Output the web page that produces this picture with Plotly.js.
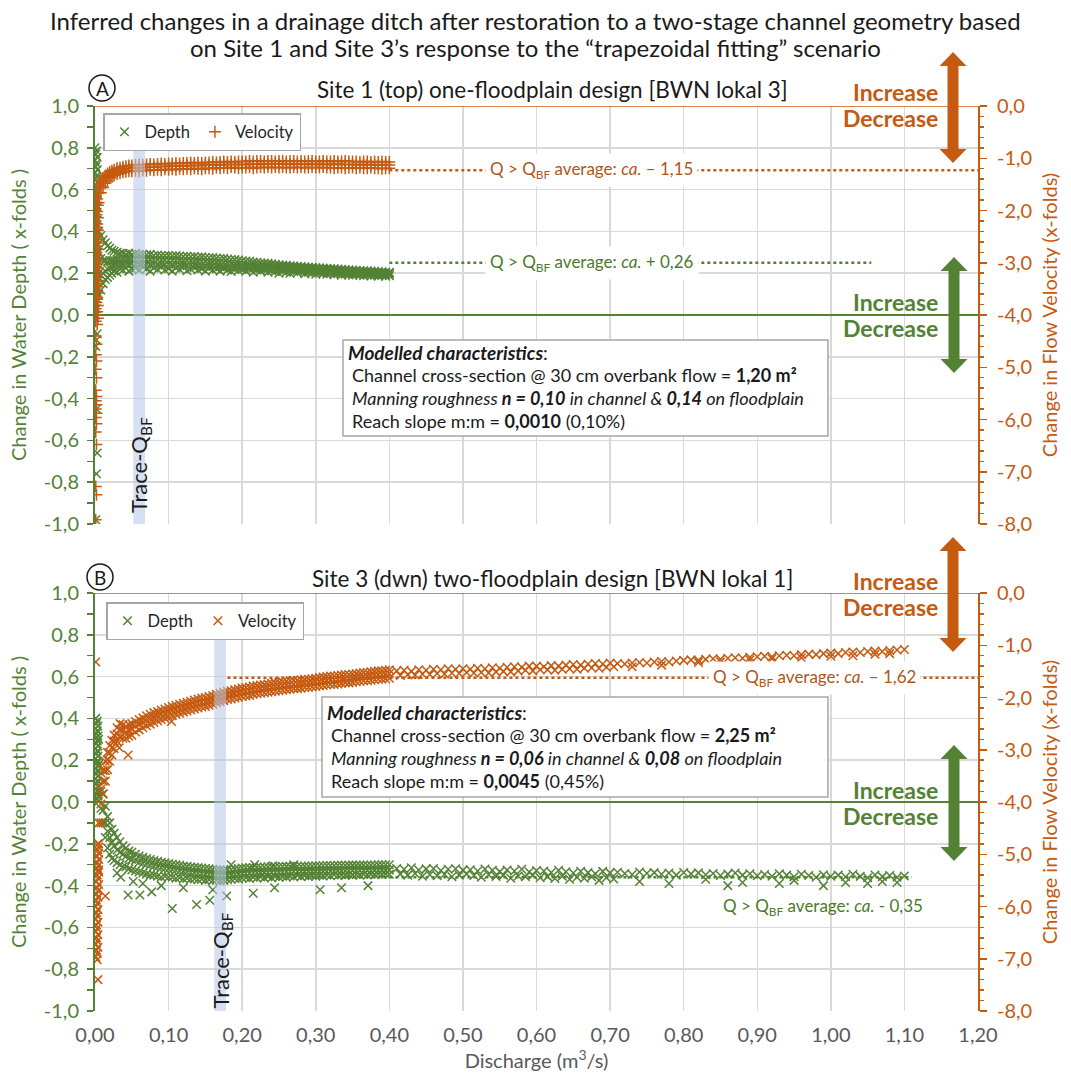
<!DOCTYPE html>
<html><head><meta charset="utf-8">
<script src="https://cdn.plot.ly/plotly-3.0.1.min.js"></script>
<style>html,body{margin:0;padding:0;background:#fff}</style>
</head><body>
<div id="chart" style="width:1071px;height:1080px"></div>
<script>
// ---------------- DATA ----------------
const xTickVals = [0,0.1,0.2,0.3,0.4,0.5,0.6,0.7,0.8,0.9,1.0,1.1,1.2];
const xTickText = ["0,00","0,10","0,20","0,30","0,40","0,50","0,60","0,70","0,80","0,90","1,00","1,10","1,20"];
const leftTickVals = [-1,-0.8,-0.6,-0.4,-0.2,0,0.2,0.4,0.6,0.8,1];
const leftTickText = ["-1,0","-0,8","-0,6","-0,4","-0,2","0,0","0,2","0,4","0,6","0,8","1,0"];
const rightTickVals = [-8,-7,-6,-5,-4,-3,-2,-1,0];
const rightTickText = ["-8,0","-7,0","-6,0","-5,0","-4,0","-3,0","-2,0","-1,0","0,0"];

// ===== Site 1 (top panel) =====
const topBandX = [0.005,0.008,0.011,0.014,0.017,0.020,0.023,0.026,0.030,0.034,0.038,0.042,0.046,0.050,
0.055,0.060,0.065,0.070,0.075,0.080,0.085,0.090,0.095,0.100,
0.105,0.110,0.115,0.120,0.125,0.130,0.135,0.140,0.145,0.150,
0.155,0.160,0.165,0.170,0.175,0.180,0.185,0.190,0.195,0.200,
0.205,0.210,0.215,0.220,0.225,0.230,0.235,0.240,0.245,0.250,
0.255,0.260,0.265,0.270,0.275,0.280,0.285,0.290,0.295,0.300,
0.305,0.310,0.315,0.320,0.325,0.330,0.335,0.340,0.345,0.350,
0.355,0.360,0.365,0.370,0.375,0.380,0.385,0.390,0.395,0.400];
const topDepthHi = [0.40,0.38,0.36,0.345,0.33,0.32,0.31,0.305,0.30,0.295,0.295,0.29,0.295,0.29,
0.295,0.29,0.29,0.288,0.29,0.285,0.287,0.285,0.284,0.285,
0.283,0.284,0.282,0.28,0.281,0.279,0.28,0.277,0.278,0.275,
0.274,0.275,0.272,0.27,0.271,0.268,0.266,0.265,0.263,0.26,
0.258,0.257,0.254,0.252,0.25,0.249,0.247,0.245,0.243,0.24,
0.239,0.238,0.236,0.235,0.233,0.232,0.231,0.229,0.228,0.227,
0.226,0.225,0.223,0.222,0.221,0.22,0.219,0.218,0.216,0.215,
0.214,0.213,0.212,0.211,0.21,0.209,0.208,0.207,0.206,0.205];
const topDepthMid = [0.30,0.27,0.26,0.26,0.255,0.26,0.26,0.262,0.265,0.265,0.268,0.265,0.268,0.265,
0.267,0.265,0.266,0.264,0.265,0.263,0.264,0.262,0.263,0.262,
0.261,0.262,0.26,0.259,0.26,0.258,0.257,0.256,0.256,0.255,
0.254,0.253,0.252,0.251,0.25,0.248,0.247,0.246,0.245,0.243,
0.242,0.241,0.24,0.238,0.237,0.236,0.235,0.233,0.232,0.231,
0.23,0.229,0.228,0.227,0.225,0.224,0.223,0.222,0.221,0.22,
0.219,0.218,0.217,0.216,0.215,0.214,0.213,0.212,0.211,0.21,
0.209,0.208,0.207,0.206,0.205,0.204,0.203,0.202,0.201,0.20];
const topDepthQ = [0.20,0.19,0.20,0.21,0.22,0.225,0.23,0.235,0.24,0.24,0.245,0.245,0.24,0.245,
0.245,0.24,0.248,0.243,0.238,0.245,0.24,0.246,0.239,0.243,
0.237,0.244,0.24,0.245,0.236,0.24,0.243,0.236,0.24,0.233,
0.24,0.234,0.237,0.231,0.236,0.232,0.228,0.234,0.229,0.231,
0.226,0.231,0.223,0.228,0.224,0.228,0.22,0.224,0.221,0.217,
0.221,0.218,0.215,0.219,0.214,0.218,0.211,0.215,0.211,0.208,
0.212,0.208,0.206,0.209,0.204,0.207,0.201,0.204,0.201,0.199,
0.202,0.199,0.197,0.2,0.196,0.198,0.195,0.197,0.193,0.195];
const topDepthLo = [0.10,0.12,0.15,0.17,0.18,0.19,0.20,0.21,0.205,0.22,0.215,0.225,0.21,0.22,
0.225,0.215,0.23,0.22,0.21,0.225,0.218,0.23,0.215,0.222,
0.21,0.225,0.218,0.23,0.212,0.22,0.227,0.215,0.222,0.21,
0.225,0.215,0.22,0.21,0.223,0.216,0.208,0.22,0.213,0.218,
0.21,0.22,0.205,0.215,0.21,0.218,0.205,0.212,0.208,0.2,
0.21,0.205,0.2,0.208,0.202,0.21,0.198,0.205,0.2,0.195,
0.203,0.198,0.195,0.2,0.193,0.198,0.19,0.196,0.192,0.19,
0.195,0.19,0.188,0.193,0.187,0.19,0.186,0.19,0.185,0.188];
const topDepthSpikeX = [0.000,0.002,0.001,0.003,0.000,0.002,0.001,0.003,0.000,0.002,
0.001,0.003,0.000,0.002,0.001,0.003,0.000,0.002,0.001,0.003,
0.000,0.002,0.001,0.003,0.000,0.002,0.001,0.003,0.000,0.002,
0.001,0.003,0.000,0.002,0.001,0.003,0.000,0.002,0.001,0.003,
0.000,0.002,0.001,0.003,0.000,0.002,0.001,0.003,0.002,0.001,
0.002,0.001,0.003,0.002,0.001,0.002,0.003,0.002,0.001];
const topDepthSpikeY = [0.80,0.785,0.77,0.755,0.74,0.725,0.71,0.695,0.68,0.665,
0.65,0.635,0.62,0.605,0.59,0.575,0.56,0.545,0.53,0.515,
0.50,0.485,0.47,0.455,0.44,0.425,0.41,0.395,0.38,0.365,
0.35,0.335,0.32,0.305,0.29,0.275,0.26,0.245,0.23,0.215,
0.20,0.185,0.17,0.155,0.14,0.125,0.11,0.095,0.08,0.06,
0.03,0.00,-0.09,-0.12,-0.15,-0.45,-0.66,-0.76,-0.98];
const topVelHi = [-1.50,-1.42,-1.37,-1.33,-1.29,-1.26,-1.24,-1.22,-1.19,-1.18,-1.16,-1.15,-1.14,-1.14,
-1.13,-1.12,-1.13,-1.12,-1.11,-1.12,-1.11,-1.10,-1.11,-1.10,
-1.10,-1.09,-1.10,-1.09,-1.09,-1.08,-1.09,-1.08,-1.09,-1.08,
-1.08,-1.07,-1.08,-1.07,-1.06,-1.07,-1.06,-1.07,-1.06,-1.06,
-1.06,-1.05,-1.06,-1.05,-1.05,-1.06,-1.05,-1.05,-1.06,-1.05,
-1.05,-1.06,-1.05,-1.05,-1.06,-1.05,-1.06,-1.05,-1.05,-1.06,
-1.06,-1.05,-1.06,-1.06,-1.05,-1.06,-1.06,-1.05,-1.06,-1.06,
-1.06,-1.07,-1.06,-1.06,-1.07,-1.06,-1.07,-1.06,-1.07,-1.07];
const topVelMid = [-1.66,-1.53,-1.45,-1.39,-1.35,-1.31,-1.29,-1.27,-1.24,-1.23,-1.21,-1.20,-1.19,-1.19,
-1.18,-1.18,-1.18,-1.17,-1.17,-1.17,-1.16,-1.16,-1.16,-1.16,
-1.15,-1.15,-1.15,-1.15,-1.14,-1.14,-1.14,-1.14,-1.14,-1.13,
-1.13,-1.13,-1.13,-1.13,-1.12,-1.12,-1.12,-1.12,-1.12,-1.12,
-1.12,-1.11,-1.12,-1.11,-1.11,-1.12,-1.11,-1.11,-1.11,-1.11,
-1.11,-1.11,-1.12,-1.11,-1.11,-1.11,-1.12,-1.11,-1.11,-1.12,
-1.12,-1.11,-1.12,-1.12,-1.12,-1.11,-1.12,-1.12,-1.12,-1.12,
-1.12,-1.13,-1.12,-1.12,-1.13,-1.12,-1.13,-1.13,-1.12,-1.13];
const topVelLo = [-1.85,-1.66,-1.56,-1.48,-1.43,-1.38,-1.36,-1.33,-1.30,-1.29,-1.27,-1.26,-1.25,-1.25,
-1.24,-1.25,-1.23,-1.24,-1.22,-1.23,-1.22,-1.23,-1.21,-1.22,
-1.21,-1.22,-1.20,-1.21,-1.20,-1.21,-1.19,-1.20,-1.21,-1.19,
-1.19,-1.20,-1.18,-1.19,-1.18,-1.19,-1.17,-1.18,-1.19,-1.18,
-1.18,-1.17,-1.19,-1.18,-1.17,-1.18,-1.17,-1.18,-1.17,-1.18,
-1.17,-1.18,-1.18,-1.17,-1.18,-1.17,-1.18,-1.18,-1.17,-1.18,
-1.18,-1.17,-1.18,-1.18,-1.19,-1.18,-1.18,-1.19,-1.18,-1.18,
-1.19,-1.18,-1.19,-1.19,-1.18,-1.19,-1.19,-1.20,-1.19,-1.19];
const topVelSpikeX = [0.002,0.004,0.001,0.003,0.002,0.004,0.001,0.003,0.002,0.004,
0.001,0.003,0.002,0.004,0.001,0.003,0.002,0.004,0.001,0.003,
0.002,0.004,0.001,0.003,0.002,0.004,0.001,0.003,0.002,0.004,
0.001,0.003,0.002,0.004,0.001,0.003,0.002,0.004,0.001,0.003,
0.002,0.004,0.001,0.003,
0.001,0.002,0.001,0.002,0.001,0.002,0.001,0.002,0.001,0.002,
0.001,0.002,0.001,0.002,0.001,0.002,0.001,0.002,0.001];
const topVelSpikeY = [-1.60,-1.66,-1.72,-1.78,-1.84,-1.90,-1.96,-2.02,-2.08,-2.14,
-2.20,-2.26,-2.32,-2.38,-2.44,-2.50,-2.56,-2.62,-2.68,-2.74,
-2.80,-2.86,-2.92,-2.98,-3.04,-3.10,-3.16,-3.22,-3.28,-3.34,
-3.40,-3.46,-3.52,-3.58,-3.64,-3.70,-3.76,-3.82,-3.88,-3.94,
-4.00,-4.06,-4.12,-4.18,
-4.40,-4.56,-4.76,-4.88,-5.04,-5.20,-5.44,-5.56,-5.64,-5.72,
-5.80,-5.88,-5.96,-6.08,-6.24,-6.48,-7.28,-7.44,-7.92];
const topVelAvgX = [0.40, 1.20];  const topVelAvgY = [-1.23, -1.23];
const topDepAvgX = [0.40, 1.055]; const topDepAvgY = [0.25, 0.25];
const topQbf = [0.052, 0.068];

// ===== Site 3 (bottom panel) =====
const botBandX = [0.005,0.008,0.011,0.014,0.017,0.020,0.023,0.026,0.030,0.034,0.038,0.042,0.046,0.050,
0.055,0.060,0.065,0.070,0.075,0.080,0.085,0.090,0.095,0.100,
0.105,0.110,0.115,0.120,0.125,0.130,0.135,0.140,0.145,0.150,
0.155,0.160,0.165,0.170,0.175,0.180,0.185,0.190,0.195,0.200,
0.205,0.210,0.215,0.220,0.225,0.230,0.235,0.240,0.245,0.250,
0.255,0.260,0.265,0.270,0.275,0.280,0.285,0.290,0.295,0.300,
0.305,0.310,0.315,0.320,0.325,0.330,0.335,0.340,0.345,0.350,
0.355,0.360,0.365,0.370,0.375,0.380,0.385,0.390,0.395,0.400];
const botDepthHi = [0.30,0.14,0.04,-0.02,-0.07,-0.10,-0.13,-0.15,-0.17,-0.19,-0.21,-0.22,-0.235,-0.24,
-0.25,-0.258,-0.265,-0.27,-0.275,-0.28,-0.284,-0.288,-0.291,-0.295,
-0.298,-0.30,-0.303,-0.306,-0.308,-0.31,-0.312,-0.314,-0.316,-0.318,
-0.32,-0.322,-0.324,-0.325,-0.326,-0.325,-0.323,-0.321,-0.318,-0.316,
-0.315,-0.314,-0.313,-0.312,-0.312,-0.311,-0.31,-0.31,-0.31,-0.309,
-0.309,-0.308,-0.308,-0.307,-0.307,-0.307,-0.306,-0.306,-0.306,-0.305,
-0.305,-0.305,-0.304,-0.304,-0.304,-0.303,-0.303,-0.303,-0.302,-0.302,
-0.302,-0.302,-0.301,-0.301,-0.301,-0.301,-0.30,-0.30,-0.30,-0.30];
const botDepthMid = [0.18,0.05,-0.04,-0.10,-0.14,-0.17,-0.19,-0.21,-0.23,-0.24,-0.25,-0.26,-0.27,-0.275,
-0.28,-0.288,-0.293,-0.298,-0.303,-0.307,-0.311,-0.315,-0.318,-0.321,
-0.324,-0.327,-0.33,-0.332,-0.335,-0.337,-0.339,-0.341,-0.343,-0.345,
-0.347,-0.349,-0.35,-0.352,-0.353,-0.352,-0.35,-0.348,-0.346,-0.344,
-0.342,-0.341,-0.34,-0.339,-0.338,-0.338,-0.337,-0.337,-0.336,-0.336,
-0.335,-0.335,-0.334,-0.334,-0.334,-0.333,-0.333,-0.333,-0.332,-0.332,
-0.332,-0.331,-0.331,-0.331,-0.33,-0.33,-0.33,-0.33,-0.329,-0.329,
-0.329,-0.328,-0.328,-0.328,-0.328,-0.327,-0.327,-0.327,-0.327,-0.326];
const botDepthLo = [0.05,-0.03,-0.10,-0.17,-0.22,-0.25,-0.27,-0.28,-0.29,-0.30,-0.31,-0.31,-0.32,-0.325,
-0.33,-0.335,-0.34,-0.345,-0.35,-0.35,-0.355,-0.36,-0.355,-0.36,
-0.36,-0.365,-0.362,-0.368,-0.365,-0.37,-0.368,-0.372,-0.37,-0.375,
-0.372,-0.376,-0.374,-0.378,-0.375,-0.372,-0.37,-0.366,-0.368,-0.364,
-0.362,-0.366,-0.36,-0.364,-0.358,-0.363,-0.357,-0.362,-0.356,-0.36,
-0.355,-0.36,-0.354,-0.358,-0.352,-0.357,-0.353,-0.356,-0.351,-0.355,
-0.35,-0.354,-0.349,-0.353,-0.348,-0.352,-0.348,-0.351,-0.347,-0.35,
-0.347,-0.35,-0.346,-0.349,-0.345,-0.348,-0.344,-0.347,-0.344,-0.346];
const botDepthSpikeX = [0.001,0.003,0.002,0.004,0.001,0.003,0.002,0.004,0.001,0.003,
0.002,0.004,0.001,0.003,0.002,0.004,0.001,0.003,0.002,0.004,
0.001,0.003,0.002,0.004,0.001,0.003,0.002,0.004,0.001,0.003,
0.002,0.004,0.003,0.005];
const botDepthSpikeY = [0.40,0.388,0.376,0.364,0.352,0.34,0.328,0.316,0.304,0.292,
0.28,0.268,0.256,0.244,0.232,0.22,0.208,0.196,0.184,0.172,
0.16,0.148,0.136,0.124,0.112,0.10,0.088,0.076,0.064,0.052,
0.04,0.028,0.016,0.004];
const botDepthOutX = [0.045,0.061,0.077,0.105,0.138,0.156,0.179,0.215,0.244,0.306,0.335,0.371,
0.030,0.035,0.052,0.065,0.090,0.120,0.160,0.185,0.217,0.242,0.270];
const botDepthOutY = [-0.445,-0.445,-0.43,-0.51,-0.49,-0.47,-0.45,-0.437,-0.41,-0.42,-0.41,-0.40,
-0.34,-0.36,-0.38,-0.39,-0.40,-0.41,-0.42,-0.30,-0.30,-0.305,-0.30];
const botTailX = [0.41,0.42,0.43,0.44,0.45,0.46,0.47,0.48,0.49,0.50,
0.51,0.52,0.53,0.54,0.55,0.56,0.57,0.58,0.59,0.60,
0.61,0.62,0.63,0.64,0.65,0.66,0.67,0.68,0.69,0.70,
0.71,0.72,0.73,0.74,0.75,0.76,0.77,0.78,0.79,0.80,
0.81,0.82,0.83,0.84,0.85,0.86,0.87,0.88,0.89,0.90,
0.91,0.92,0.93,0.94,0.95,0.96,0.97,0.98,0.99,1.00,
1.01,1.02,1.03,1.04,1.05,1.06,1.07,1.08,1.09,1.10];
const botTailXB = [0.415,0.425,0.435,0.445,0.455,0.465,0.475,0.485,0.495,0.505,
0.515,0.525,0.535,0.545,0.555,0.565,0.575,0.585,0.595,0.605,
0.615,0.625,0.635,0.645,0.655,0.665,0.675,0.685,0.695,0.705];
const botDepthTailA = [-0.318,-0.322,-0.315,-0.325,-0.32,-0.318,-0.328,-0.322,-0.319,-0.326,
-0.324,-0.33,-0.321,-0.327,-0.333,-0.325,-0.33,-0.322,-0.335,-0.328,
-0.33,-0.337,-0.327,-0.334,-0.34,-0.331,-0.338,-0.343,-0.332,-0.339,
-0.336,-0.342,-0.347,-0.335,-0.341,-0.338,-0.346,-0.34,-0.35,-0.337,
-0.344,-0.339,-0.348,-0.342,-0.352,-0.345,-0.34,-0.35,-0.343,-0.353,
-0.347,-0.355,-0.343,-0.35,-0.358,-0.346,-0.352,-0.36,-0.348,-0.355,
-0.35,-0.358,-0.346,-0.356,-0.362,-0.349,-0.357,-0.352,-0.36,-0.354];
const botDepthTailB = [-0.345,-0.35,-0.342,-0.355,-0.348,-0.353,-0.346,-0.358,-0.35,-0.344,
-0.352,-0.36,-0.348,-0.356,-0.35,-0.365,-0.354,-0.358,-0.35,-0.362,
-0.357,-0.366,-0.355,-0.37,-0.36,-0.365,-0.358,-0.375,-0.362,-0.368];
const botDepthTailOutX = [0.74,0.78,0.83,0.86,0.88,0.93,0.95,0.99,1.02,1.05,1.07,1.09];
const botDepthTailOutY = [-0.38,-0.39,-0.37,-0.40,-0.385,-0.39,-0.375,-0.40,-0.385,-0.39,-0.38,-0.385];
const botVelHi = [-4.40,-3.75,-3.40,-3.22,-3.05,-2.92,-2.82,-2.72,-2.58,-2.50,-2.52,-2.55,-2.52,-2.50,
-2.46,-2.42,-2.39,-2.35,-2.32,-2.29,-2.27,-2.24,-2.22,-2.19,
-2.17,-2.15,-2.13,-2.11,-2.09,-2.07,-2.05,-2.03,-2.01,-2.00,
-1.98,-1.96,-1.94,-1.92,-1.90,-1.88,-1.87,-1.85,-1.84,-1.82,
-1.81,-1.80,-1.78,-1.77,-1.76,-1.75,-1.74,-1.73,-1.72,-1.71,
-1.70,-1.69,-1.68,-1.67,-1.67,-1.66,-1.65,-1.65,-1.64,-1.63,
-1.62,-1.61,-1.60,-1.59,-1.59,-1.58,-1.57,-1.56,-1.56,-1.55,
-1.54,-1.53,-1.52,-1.52,-1.51,-1.50,-1.49,-1.49,-1.48,-1.47];
const botVelMid = [-4.80,-4.04,-3.60,-3.40,-3.20,-3.06,-2.96,-2.84,-2.70,-2.62,-2.64,-2.66,-2.62,-2.60,
-2.55,-2.51,-2.48,-2.44,-2.41,-2.38,-2.35,-2.32,-2.30,-2.27,
-2.25,-2.23,-2.21,-2.19,-2.17,-2.15,-2.13,-2.11,-2.09,-2.08,
-2.06,-2.04,-2.01,-1.99,-1.97,-1.95,-1.94,-1.92,-1.91,-1.89,
-1.88,-1.87,-1.85,-1.84,-1.83,-1.82,-1.81,-1.80,-1.79,-1.78,
-1.77,-1.76,-1.75,-1.74,-1.74,-1.73,-1.72,-1.72,-1.71,-1.70,
-1.69,-1.68,-1.67,-1.66,-1.66,-1.65,-1.64,-1.63,-1.63,-1.62,
-1.61,-1.60,-1.59,-1.59,-1.58,-1.57,-1.56,-1.56,-1.55,-1.54];
const botVelLo = [-5.30,-4.40,-3.85,-3.60,-3.38,-3.22,-3.10,-2.98,-2.84,-2.76,-2.78,-2.78,-2.74,-2.72,
-2.66,-2.62,-2.58,-2.54,-2.51,-2.48,-2.45,-2.42,-2.40,-2.37,
-2.35,-2.32,-2.30,-2.28,-2.26,-2.24,-2.22,-2.20,-2.18,-2.17,
-2.15,-2.13,-2.10,-2.08,-2.06,-2.04,-2.03,-2.01,-2.00,-1.98,
-1.97,-1.96,-1.94,-1.93,-1.92,-1.91,-1.90,-1.89,-1.88,-1.87,
-1.86,-1.85,-1.84,-1.83,-1.83,-1.82,-1.81,-1.81,-1.80,-1.79,
-1.78,-1.77,-1.76,-1.75,-1.75,-1.74,-1.73,-1.72,-1.72,-1.71,
-1.70,-1.69,-1.68,-1.68,-1.67,-1.66,-1.65,-1.65,-1.64,-1.63];
const botVelSpikeX = [0.001,0.003,0.002,0.004,0.001,0.003,0.002,0.004,0.001,0.003,
0.002,0.004,0.001,0.003,0.002,0.004,0.001,0.003,0.002,0.004,
0.002,0.004,0.003,0.005,0.002,0.004,0.003,0.005,0.002,0.004,
0.003,0.005,0.003,0.005,0.004,0.005,0.004];
const botVelSpikeY = [-6.96,-6.90,-6.84,-6.78,-6.72,-6.66,-6.60,-6.54,-6.48,-6.42,
-6.36,-6.30,-6.24,-6.18,-6.12,-6.06,-6.00,-5.94,-5.88,-5.82,
-5.76,-5.70,-5.64,-5.58,-5.52,-5.46,-5.40,-5.34,-5.28,-5.22,
-5.16,-5.10,-5.04,-4.98,-4.92,-4.86,-4.80];
const botVelOutX = [0.001,0.003,0.004,0.014,0.045,0.104,0.033];
const botVelOutY = [-1.32,-7.02,-7.40,-5.80,-3.10,-2.46,-2.96];
const botVelTailA = [-1.49,-1.48,-1.50,-1.47,-1.48,-1.46,-1.47,-1.45,-1.46,-1.45,
-1.46,-1.44,-1.45,-1.43,-1.44,-1.42,-1.41,-1.42,-1.40,-1.40,
-1.41,-1.39,-1.40,-1.38,-1.37,-1.38,-1.36,-1.35,-1.36,-1.34,
-1.35,-1.36,-1.34,-1.33,-1.34,-1.32,-1.31,-1.32,-1.30,-1.29,
-1.28,-1.29,-1.27,-1.26,-1.27,-1.25,-1.24,-1.25,-1.23,-1.22,
-1.21,-1.22,-1.20,-1.19,-1.20,-1.18,-1.17,-1.18,-1.16,-1.15,
-1.16,-1.14,-1.13,-1.14,-1.12,-1.11,-1.12,-1.10,-1.09,-1.08];
const botVelTailB = [-1.58,-1.56,-1.57,-1.55,-1.56,-1.54,-1.55,-1.53,-1.54,-1.52,
-1.53,-1.52,-1.53,-1.51,-1.50,-1.51,-1.49,-1.48,-1.49,-1.47,
-1.47,-1.48,-1.46,-1.45,-1.46,-1.44,-1.43,-1.44,-1.42,-1.41];
const botVelTailOutX = [0.73,0.77,0.82,0.85,0.89,0.92,0.96,1.00,1.03,1.06,1.08];
const botVelTailOutY = [-1.41,-1.38,-1.33,-1.32,-1.28,-1.26,-1.24,-1.21,-1.20,-1.17,-1.16];
const botVelAvgX = [0.18, 1.20]; const botVelAvgY = [-1.62, -1.62];
const botDepAvgX = [0.18, 1.11]; const botDepAvgY = [-0.36, -0.36];
const botQbf = [0.162, 0.178];

// ---------------- STYLE ----------------
const GREEN = '#548235', ORANGE = '#C55A11', GRID = '#D9D9D9';
const GREEN_T = '#4A7A2C', ORANGE_T = '#AE561B';
const FONT = 'Lato, "Open Sans", sans-serif';
const PL = 95, PR = 978, PT = 106, PB = 1011;
const px = v => (v - PL) / (PR - PL);
const py = v => (PB - v) / (PB - PT);
const TOP_DOM = [py(524), 1];
const BOT_DOM = [0, py(593)];

const mk = (sym, col) => ({symbol: sym, size: 8.5, color: col, line: {color: col, width: 1.5}});

const traces = [
  {type:'scatter', mode:'markers', name:'Depth', xaxis:'x2', yaxis:'y', legend:'legend',
   x: topDepthSpikeX.concat(topBandX, topBandX, topBandX, topBandX),
   y: topDepthSpikeY.concat(topDepthHi, topDepthMid, topDepthQ, topDepthLo),
   marker: mk('x-thin', GREEN)},
  {type:'scatter', mode:'lines', showlegend:false, xaxis:'x2', yaxis:'y',
   x: topDepAvgX, y: topDepAvgY, line:{color:GREEN, width:2.5, dash:'dot'}},
  {type:'scatter', mode:'markers', name:'Velocity', xaxis:'x2', yaxis:'y2', legend:'legend',
   x: topVelSpikeX.concat(topBandX, topBandX, topBandX),
   y: topVelSpikeY.concat(topVelHi, topVelMid, topVelLo),
   marker: mk('cross-thin', ORANGE)},
  {type:'scatter', mode:'lines', showlegend:false, xaxis:'x2', yaxis:'y2',
   x: topVelAvgX, y: topVelAvgY, line:{color:ORANGE, width:2.5, dash:'dot'}},

  {type:'scatter', mode:'markers', name:'Depth', xaxis:'x', yaxis:'y3', legend:'legend2',
   x: botDepthSpikeX.concat(botBandX, botBandX, botBandX, botDepthOutX, botTailX, botTailXB, botDepthTailOutX),
   y: botDepthSpikeY.concat(botDepthHi, botDepthMid, botDepthLo, botDepthOutY, botDepthTailA, botDepthTailB, botDepthTailOutY),
   marker: mk('x-thin', GREEN)},
  {type:'scatter', mode:'lines', showlegend:false, xaxis:'x', yaxis:'y3',
   x: botDepAvgX, y: botDepAvgY, line:{color:GREEN, width:2.5, dash:'dot'}},
  {type:'scatter', mode:'markers', name:'Velocity', xaxis:'x', yaxis:'y4', legend:'legend2',
   x: botVelSpikeX.concat(botBandX, botBandX, botBandX, botVelOutX, botTailX, botTailXB, botVelTailOutX),
   y: botVelSpikeY.concat(botVelHi, botVelMid, botVelLo, botVelOutY, botVelTailA, botVelTailB, botVelTailOutY),
   marker: mk('x-thin', ORANGE)},
  {type:'scatter', mode:'lines', showlegend:false, xaxis:'x', yaxis:'y4',
   x: botVelAvgX, y: botVelAvgY, line:{color:ORANGE, width:2.5, dash:'dot'}}
];

const xBase = (showLabels, anchor) => ({
  domain:[0,1], range:[0,1.2], anchor: anchor, tickmode:'array', tickvals:xTickVals, ticktext:xTickText,
  showticklabels: showLabels, showgrid:true, gridcolor:GRID, gridwidth:1.5, zeroline:false,
  showline:false, ticks: showLabels ? 'outside' : '', ticklen:6, tickcolor:'rgba(0,0,0,0)',
  tickfont:{family:FONT, size:20, color:'#595959'}
});
const yLeft = (dom, anchor) => ({
  domain: dom, range:[-1,1], anchor: anchor, tickmode:'array', tickvals:leftTickVals, ticktext:leftTickText,
  showgrid:true, gridcolor:GRID, gridwidth:1.5, zeroline:true, zerolinecolor:GREEN, zerolinewidth:1.5,
  showline:true, linecolor:GREEN, linewidth:2, ticks:'outside', ticklen:6, tickwidth:1.5, tickcolor:GREEN,
  minor:{tickmode:'linear', tick0:0, dtick:0.1, ticks:'outside', ticklen:6, tickwidth:1.5, tickcolor:GREEN, showgrid:false},
  ticklabelstandoff:4,
  tickfont:{family:FONT, size:20, color:GREEN},
  title:{text:'Change in Water Depth ( x-folds )', font:{family:FONT, size:20, color:GREEN}, standoff:12}
});
const yRight = (over, anchor) => ({
  overlaying: over, side:'right', anchor: anchor, range:[-8,0], tickmode:'array',
  tickvals:rightTickVals, ticktext:rightTickText, showgrid:false, zeroline:false,
  showline:true, linecolor:ORANGE, linewidth:2, ticks:'outside', ticklen:7, tickwidth:1.5, tickcolor:ORANGE,
  minor:{tickmode:'linear', tick0:0, dtick:0.2, ticks:'outside', ticklen:4, tickwidth:1.5, tickcolor:ORANGE, showgrid:false},
  ticklabelstandoff:6,
  tickfont:{family:FONT, size:20, color:ORANGE},
  title:{text:'Change in Flow Velocity (x-folds)', font:{family:FONT, size:20, color:ORANGE}, standoff:12}
});

function dblArrow(cx, yTop, yBot, color) {
  const sw = 11, hw = 27, hl = 14;
  const pts = [[cx,yTop],[cx+hw/2,yTop+hl],[cx+sw/2,yTop+hl],[cx+sw/2,yBot-hl],[cx+hw/2,yBot-hl],
    [cx,yBot],[cx-hw/2,yBot-hl],[cx-sw/2,yBot-hl],[cx-sw/2,yTop+hl],[cx-hw/2,yTop+hl]];
  return {type:'path', xref:'paper', yref:'paper', layer:'above', fillcolor:color, line:{width:0},
    path:'M' + pts.map(p => px(p[0]).toFixed(5) + ',' + py(p[1]).toFixed(5)).join(' L') + ' Z'};
}
function pRect(x0, y0, x1, y1) {
  return {type:'rect', xref:'paper', yref:'paper', layer:'above', x0:px(x0), x1:px(x1), y0:py(y1), y1:py(y0),
    fillcolor:'white', line:{color:'#A6A6A6', width:1.5}};
}
function pCircle(cx, cy, r) {
  return {type:'circle', xref:'paper', yref:'paper', layer:'above', x0:px(cx-r), x1:px(cx+r), y0:py(cy+r), y1:py(cy-r),
    line:{color:'#1a1a1a', width:1.5}};
}
const shapes = [
  {type:'rect', xref:'x2', yref:'y', layer:'above', x0:topQbf[0], x1:topQbf[1], y0:-1, y1:0.84,
   fillcolor:'rgba(180,199,231,0.55)', line:{width:0}},
  {type:'rect', xref:'x', yref:'y3', layer:'above', x0:botQbf[0], x1:botQbf[1], y0:-1, y1:0.83,
   fillcolor:'rgba(180,199,231,0.55)', line:{width:0}},
  {type:'line', xref:'paper', yref:'y2', layer:'above', x0:0, x1:1, y0:0, y1:0, line:{color:ORANGE, width:1.5}},
  {type:'line', xref:'paper', yref:'y4', layer:'above', x0:0, x1:1, y0:0, y1:0, line:{color:ORANGE, width:1.5}},
  pRect(343, 340, 828, 436),
  pRect(322, 697, 828, 797),
  dblArrow(953, 52, 163, ORANGE),
  dblArrow(954, 257, 373, GREEN),
  dblArrow(953, 537, 652, ORANGE),
  dblArrow(954, 745, 861, GREEN),
  pCircle(102, 88, 13),
  pCircle(100, 577, 13)
];

const ann = [];
function pText(text, x, y, opts) {
  ann.push(Object.assign({xref:'paper', yref:'paper', x:px(x), y:py(y), text:text, showarrow:false,
    xanchor:'center', yanchor:'middle', font:{family:FONT, size:16, color:'#1a1a1a'}}, opts || {}));
}
// main title (two lines)
pText('Inferred changes in a drainage ditch after restoration to a two-stage channel geometry based', 535, 20, {font:{family:FONT, size:24, color:'#1a1a1a'}});
pText('on Site 1 and Site 3’s response to the “trapezoidal fitting” scenario', 535, 48, {font:{family:FONT, size:24, color:'#1a1a1a'}});
// panel titles and letters
pText('Site 1 (top) one-floodplain design [BWN lokal 3]', 552, 90, {font:{family:FONT, size:22.5, color:'#1a1a1a'}});
pText('Site 3 (dwn) two-floodplain design [BWN lokal 1]', 552, 578, {font:{family:FONT, size:22.5, color:'#1a1a1a'}});
pText('A', 102, 88, {font:{family:FONT, size:19, color:'#1a1a1a'}});
pText('B', 100, 577, {font:{family:FONT, size:19, color:'#1a1a1a'}});
// Increase / Decrease labels
const incOpts = c => ({xanchor:'right', font:{family:FONT, size:23, color:c}});
pText('<b>Increase</b>', 940, 92, incOpts(ORANGE));
pText('<b>Decrease</b>', 940, 118, incOpts(ORANGE));
pText('<b>Increase</b>', 940, 302, incOpts(GREEN));
pText('<b>Decrease</b>', 940, 328, incOpts(GREEN));
pText('<b>Increase</b>', 940, 581, incOpts(ORANGE));
pText('<b>Decrease</b>', 940, 607, incOpts(ORANGE));
pText('<b>Increase</b>', 940, 790, incOpts(GREEN));
pText('<b>Decrease</b>', 940, 816, incOpts(GREEN));
// modelled characteristics boxes
const boxOpts = {xanchor:'left', font:{family:FONT, size:18, color:'#1a1a1a'}};
const boxHead = {xanchor:'left', font:{family:FONT, size:19, color:'#1a1a1a'}};
pText('<b><i>Modelled characteristics</i></b>:', 346, 352, boxHead);
pText('Channel cross-section @ 30 cm overbank flow = <b>1,20 m²</b>', 350, 375, boxOpts);
pText('<i>Manning roughness <b>n = 0,10</b> in channel & <b>0,14</b> on floodplain</i>', 350, 398, boxOpts);
pText('Reach slope m:m = <b>0,0010</b> (0,10%)', 350, 421, boxOpts);
pText('<b><i>Modelled characteristics</i></b>:', 325, 712, boxHead);
pText('Channel cross-section @ 30 cm overbank flow = <b>2,25 m²</b>', 329, 735, boxOpts);
pText('<i>Manning roughness <b>n = 0,06</b> in channel & <b>0,08</b> on floodplain</i>', 329, 758, boxOpts);
pText('Reach slope m:m = <b>0,0045</b> (0,45%)', 329, 781, boxOpts);
// average labels
ann.push({xref:'x2', yref:'y2', x:0.675, y:topVelAvgY[0], showarrow:false, bgcolor:'white', borderpad:4,
  text:'Q > Q<sub>BF</sub> average: <i>ca.</i> – 1,15', font:{family:FONT, size:17, color:ORANGE_T}});
ann.push({xref:'x2', yref:'y', x:0.675, y:topDepAvgY[0], showarrow:false, bgcolor:'white', borderpad:4,
  text:'Q > Q<sub>BF</sub> average: <i>ca.</i> + 0,26', font:{family:FONT, size:17, color:GREEN_T}});
ann.push({xref:'x', yref:'y4', x:0.978, y:botVelAvgY[0], showarrow:false, bgcolor:'white', borderpad:4,
  text:'Q > Q<sub>BF</sub> average: <i>ca.</i> – 1,62', font:{family:FONT, size:17, color:ORANGE_T}});
ann.push({xref:'x', yref:'y3', x:0.989, y:-0.50, showarrow:false,
  text:'Q > Q<sub>BF</sub> average: <i>ca.</i> - 0,35', font:{family:FONT, size:17, color:GREEN_T}});
// Trace-Q_BF labels
ann.push({xref:'x2', yref:'y', x:0.062, y:-0.72, showarrow:false, textangle:-90,
  text:'Trace-Q<sub>BF</sub>', font:{family:FONT, size:22, color:'#1a1a1a'}});
ann.push({xref:'x', yref:'y3', x:0.172, y:-0.76, showarrow:false, textangle:-90,
  text:'Trace-Q<sub>BF</sub>', font:{family:FONT, size:22, color:'#1a1a1a'}});

const legendBase = {orientation:'h', xanchor:'left', yanchor:'top', bgcolor:'white', bordercolor:'#A6A6A6',
  borderwidth:1.5, font:{family:FONT, size:16.5, color:'#262626'}, itemwidth:30};

const layout = {
  width:1071, height:1080, paper_bgcolor:'white', plot_bgcolor:'white',
  margin:{l:PL, r:1071-PR, t:PT, b:1080-PB},
  separators:',.',
  font:{family:FONT},
  xaxis: Object.assign(xBase(true, 'y3'), {title:{text:'Discharge (m<sup>3</sup>/s)', font:{family:FONT, size:20, color:'#595959'}, standoff:7}}),
  xaxis2: xBase(false, 'y'),
  yaxis: yLeft(TOP_DOM, 'x2'),
  yaxis2: yRight('y', 'x2'),
  yaxis3: yLeft(BOT_DOM, 'x'),
  yaxis4: yRight('y3', 'x'),
  legend: Object.assign({x:px(103), y:py(113)}, legendBase),
  legend2: Object.assign({x:px(106), y:py(602)}, legendBase),
  shapes: shapes,
  annotations: ann
};

Plotly.newPlot('chart', traces, layout, {displayModeBar:false, staticPlot:true});
</script>
</body></html>
